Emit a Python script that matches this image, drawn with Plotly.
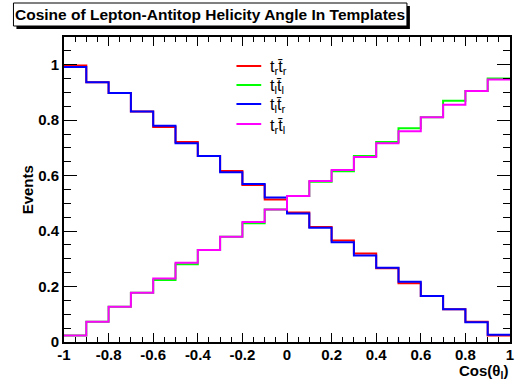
import plotly.graph_objects as go

# ---- data ----
bin_edges = [-1.0, -0.9, -0.8, -0.7, -0.6, -0.5, -0.4, -0.3, -0.2, -0.1, 0.0,
             0.1, 0.2, 0.3, 0.4, 0.5, 0.6, 0.7, 0.8, 0.9, 1.0]

trtr = [0.997, 0.937, 0.898, 0.831, 0.775, 0.721, 0.671, 0.617, 0.566, 0.514,
        0.467, 0.415, 0.366, 0.319, 0.266, 0.212, 0.166, 0.118, 0.073, 0.023]
tltl = [0.023, 0.073, 0.127, 0.178, 0.224, 0.280, 0.332, 0.380, 0.428, 0.478,
        0.527, 0.578, 0.616, 0.671, 0.721, 0.771, 0.811, 0.870, 0.905, 0.950]
tltr = [0.992, 0.937, 0.898, 0.831, 0.780, 0.717, 0.671, 0.612, 0.570, 0.521,
        0.463, 0.412, 0.360, 0.312, 0.268, 0.217, 0.166, 0.118, 0.071, 0.026]
trtl = [0.023, 0.073, 0.127, 0.178, 0.229, 0.286, 0.332, 0.380, 0.433, 0.478,
        0.527, 0.581, 0.620, 0.667, 0.717, 0.760, 0.811, 0.856, 0.905, 0.947]

series_names = ["t<sub>r</sub>t\u0304<sub>r</sub>", "t<sub>l</sub>t\u0304<sub>l</sub>",
                "t<sub>l</sub>t\u0304<sub>r</sub>", "t<sub>r</sub>t\u0304<sub>l</sub>"]
series_values = [trtr, tltl, tltr, trtl]
series_colors = ["#ff0000", "#00ff00", "#0000ff", "#ff00ff"]

title_text = "Cosine of Lepton-Antitop Helicity Angle In Templates"
x_title = "Cos(\u03b8<sub>l</sub>)"
y_title = "Events"
x_ticks = [-1, -0.8, -0.6, -0.4, -0.2, 0, 0.2, 0.4, 0.6, 0.8, 1]
x_ticklabels = ["-1", "-0.8", "-0.6", "-0.4", "-0.2", "0", "0.2", "0.4", "0.6", "0.8", "1"]
y_ticks = [0, 0.2, 0.4, 0.6, 0.8, 1]
y_ticklabels = ["0", "0.2", "0.4", "0.6", "0.8", "1"]

# ---- layout geometry ----
W, H = 517, 381
L, R, T, B = 64, 3, 37, 39
PW, PH = W - L - R, H - T - B

def px2x(px):
    return (px - L) / PW

def px2y(py):
    return (H - B - py) / PH

FONT = "Liberation Sans, Arial, Helvetica, sans-serif"

fig = go.Figure()
for name, vals, col in zip(series_names, series_values, series_colors):
    fig.add_trace(go.Scatter(
        x=bin_edges, y=vals + [vals[-1]], mode="lines", name=name,
        line=dict(color=col, width=2, shape="hv"), showlegend=False,
    ))

axis_common = dict(
    showgrid=False, zeroline=False, showline=True, linecolor="black", linewidth=2,
    mirror="allticks", ticks="inside", tickcolor="black", tickwidth=1,
    ticklabeloverflow="allow",
    tickfont=dict(family=FONT, size=15, color="black", weight="bold"),
)

fig.update_xaxes(
    range=[-1, 1], tickvals=x_ticks, ticktext=x_ticklabels, ticklen=9,
    ticklabelstandoff=-2,
    minor=dict(dtick=0.05, ticklen=5, ticks="inside", tickcolor="black", tickwidth=1, showgrid=False),
    **axis_common,
)
fig.update_yaxes(
    range=[0, 1.1], tickvals=y_ticks, ticktext=y_ticklabels, ticklen=13,
    minor=dict(dtick=0.05, ticklen=7, ticks="inside", tickcolor="black", tickwidth=1, showgrid=False),
    **axis_common,
)

# manual legend (line sample + label) to match the compact spacing
legend_rows_px = [66, 85, 104, 124]
shapes = [
    dict(type="rect", xref="paper", yref="paper",
         x0=px2x(16), x1=px2x(413), y0=px2y(29), y1=px2y(6),
         fillcolor="black", line=dict(width=0), layer="above"),
    dict(type="rect", xref="paper", yref="paper",
         x0=px2x(13), x1=px2x(410), y0=px2y(26), y1=px2y(3),
         fillcolor="white", line=dict(color="black", width=1), layer="above"),
]
annotations = [
    dict(text=title_text, xref="paper", yref="paper",
         x=px2x(211.5), y=px2y(14.5), xanchor="center", yanchor="middle",
         showarrow=False, font=dict(family=FONT, size=15.5, color="black", weight="bold")),
    dict(text=x_title, xref="paper", yref="paper",
         x=px2x(514), y=px2y(371), xanchor="right", yanchor="middle",
         showarrow=False, font=dict(family=FONT, size=15, color="black", weight="bold")),
    dict(text=y_title, xref="paper", yref="paper", textangle=-90,
         x=px2x(27), y=px2y(190), xanchor="center", yanchor="middle",
         showarrow=False, font=dict(family=FONT, size=15, color="black", weight="bold")),
]
for name, col, ypx in zip(series_names, series_colors, legend_rows_px):
    shapes.append(dict(type="line", xref="paper", yref="paper",
                       x0=px2x(238), x1=px2x(263), y0=px2y(ypx), y1=px2y(ypx),
                       line=dict(color=col, width=2), layer="above"))
    annotations.append(dict(text=name, xref="paper", yref="paper",
                            x=px2x(270), y=px2y(ypx + 2), xanchor="left", yanchor="middle",
                            showarrow=False, font=dict(family=FONT, size=16, color="black")))

fig.update_layout(
    width=W, height=H,
    margin=dict(l=L, r=R, t=T, b=B),
    paper_bgcolor="white", plot_bgcolor="white",
    showlegend=False,
    shapes=shapes,
    annotations=annotations,
)

fig.write_html("out.html")
